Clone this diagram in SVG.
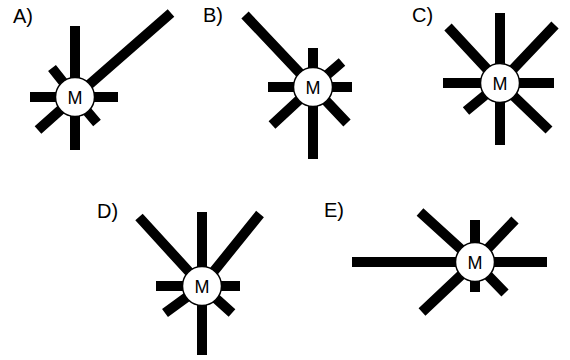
<svg xmlns="http://www.w3.org/2000/svg" width="570" height="360" viewBox="0 0 570 360">
<style>
.bar{stroke:#000;stroke-width:10;stroke-linecap:butt;fill:none}
.hub{fill:#fff;stroke:#000;stroke-width:1.5}
.m{font-family:"Liberation Sans",Arial,sans-serif;font-size:18px;fill:#000;text-anchor:middle}
.lbl{font-family:"Liberation Sans",Arial,sans-serif;font-size:20px;fill:#000}
</style>
<rect width="570" height="360" fill="#fff"/>
<g id="connectors">
<!-- A -->
<g transform="translate(75,97)">
<path class="bar" d="M0,0V-71M0,0V53M0,0H-45M0,0H43M0,0L-23,-29M0,0L-37,33M0,0L22,26M0,0L96,-84"/>
</g>
<!-- B -->
<g transform="translate(313,87)">
<path class="bar" d="M0,0L-68,-72M0,0V-39M0,0L29,-25M0,0H39M0,0H-45M0,0L-41,38M0,0V72M0,0L34,36"/>
</g>
<!-- C -->
<g transform="translate(500,83)">
<path class="bar" d="M0,0V-70M0,0V62M0,0H-57M0,0H54M0,0L-52,-56M0,0L55,-58M0,0L-34,28M0,0L49,47"/>
</g>
<!-- D -->
<g transform="translate(202,286)">
<path class="bar" d="M0,0V-74M0,0V69M0,0H-46M0,0H38M0,0L-63,-69M0,0L58,-72M0,0L-37,27M0,0L30,27"/>
</g>
<!-- E -->
<g transform="translate(475,262)">
<path class="bar" d="M0,0H-123M0,0H72M0,0V-42M0,0V30M0,0L-55,-50M0,0L40,-42M0,0L-53,50M0,0L30,31"/>
</g>
</g>
<g id="nodeA"><circle class="hub" cx="75" cy="97" r="19.5"/><text class="m" x="75" y="104">M</text></g>
<g id="nodeB"><circle class="hub" cx="313" cy="87" r="19.5"/><text class="m" x="313" y="94">M</text></g>
<g id="nodeC"><circle class="hub" cx="500" cy="83" r="19.5"/><text class="m" x="500" y="90">M</text></g>
<g id="nodeD"><circle class="hub" cx="202" cy="286" r="19.5"/><text class="m" x="202" y="293">M</text></g>
<g id="nodeE"><circle class="hub" cx="475" cy="262" r="19.5"/><text class="m" x="475" y="269">M</text></g>
<g id="labels">
<text class="lbl" x="13" y="23">A)</text>
<text class="lbl" x="203" y="22">B)</text>
<text class="lbl" x="412" y="22">C)</text>
<text class="lbl" x="97" y="218">D)</text>
<text class="lbl" x="324" y="217">E)</text>
</g>
</svg>
